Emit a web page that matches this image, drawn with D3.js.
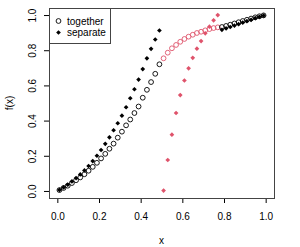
<!DOCTYPE html>
<html>
<head>
<meta charset="utf-8">
<script src="https://cdn.jsdelivr.net/npm/d3@7"></script>
<style>
  body { margin: 0; background: #fff; }
  text { font-family: "Liberation Sans", Arial, sans-serif; font-size: 10px; fill: #000; }
</style>
</head>
<body>
<div id="chart"></div>
<script>
// x positions of the points (three pieces of the grid)
var xLeft = [0.01, 0.03, 0.05, 0.07, 0.09, 0.11, 0.13, 0.15, 0.17, 0.19, 0.21, 0.23, 0.25,
             0.27, 0.29, 0.31, 0.33, 0.35, 0.37, 0.39, 0.41, 0.43, 0.45, 0.47, 0.49];
var xMid = [0.51, 0.53, 0.55, 0.57, 0.59, 0.61, 0.63, 0.65, 0.67, 0.69, 0.71, 0.73, 0.75, 0.77];
var xRight = [0.79, 0.81, 0.83, 0.85, 0.87, 0.89, 0.91, 0.93, 0.95, 0.97, 0.99];

// "together" values (open circles)
var togetherLeft = [0.005, 0.017, 0.030, 0.045, 0.061, 0.077, 0.095, 0.115, 0.137, 0.160, 0.185, 0.211, 0.240,
                    0.269, 0.303, 0.337, 0.373, 0.406, 0.443, 0.480, 0.530, 0.575, 0.619, 0.666, 0.720];
var togetherMid = [0.754, 0.786, 0.811, 0.830, 0.848, 0.864, 0.877, 0.888, 0.898, 0.905, 0.913, 0.920, 0.926, 0.930];
var togetherRight = [0.932, 0.938, 0.945, 0.952, 0.959, 0.966, 0.973, 0.980, 0.987, 0.993, 0.998];

// "separate" values (filled diamonds)
var separateLeft = [0.006, 0.020, 0.036, 0.054, 0.073, 0.094, 0.117, 0.142, 0.170, 0.200, 0.233, 0.268, 0.305,
                    0.345, 0.385, 0.428, 0.476, 0.527, 0.578, 0.633, 0.693, 0.754, 0.808, 0.861, 0.912];
var separateMid = [0.002, 0.176, 0.320, 0.443, 0.545, 0.628, 0.697, 0.757, 0.809, 0.852, 0.896, 0.934, 0.970, 1.000];
var separateRight = [0.916, 0.924, 0.932, 0.940, 0.948, 0.957, 0.965, 0.973, 0.982, 0.990, 0.997];

var tickValues = [0, 0.2, 0.4, 0.6, 0.8, 1.0];
var legendLabels = ["together", "separate"];

var black = "#000000", pink = "#DF536B";

var width = 300, height = 247;
var plot = {left: 49, right: 274, top: 8, bottom: 198};

var svg = d3.select("#chart").append("svg")
  .attr("width", width)
  .attr("height", height);

var x = d3.scaleLinear().domain([-0.04, 1.04]).range([plot.left, plot.right]);
var y = d3.scaleLinear().domain([-0.04, 1.04]).range([plot.bottom, plot.top]);

// axes
var xAxis = svg.append("g")
  .attr("transform", "translate(0," + plot.bottom + ")")
  .call(d3.axisBottom(x).tickValues(tickValues).tickFormat(d3.format(".1f"))
    .tickSize(5).tickSizeOuter(0).tickPadding(10));
xAxis.select(".domain").remove();
xAxis.selectAll("text").style("font-size", "10px").attr("fill", "#000");

var yAxis = svg.append("g")
  .attr("transform", "translate(" + plot.left + ",0)")
  .call(d3.axisLeft(y).tickValues(tickValues).tickFormat(d3.format(".1f"))
    .tickSize(5).tickSizeOuter(0));
yAxis.select(".domain").remove();
yAxis.selectAll("text")
  .attr("x", null).attr("dy", null)
  .attr("text-anchor", "middle")
  .attr("transform", "translate(-13.5,0) rotate(-90)")
  .style("font-size", "10px").attr("fill", "#000");

// plot frame
svg.append("rect")
  .attr("x", plot.left + 0.5).attr("y", plot.top + 0.5)
  .attr("width", plot.right - plot.left).attr("height", plot.bottom - plot.top)
  .attr("fill", "none").attr("stroke", "#444").attr("stroke-width", 1);

// axis titles
svg.append("text")
  .attr("x", (plot.left + plot.right) / 2)
  .attr("y", 243.5)
  .attr("text-anchor", "middle")
  .text("x");
svg.append("text")
  .attr("transform", "translate(13," + (plot.top + plot.bottom) / 2 + ") rotate(-90)")
  .attr("text-anchor", "middle")
  .text("f(x)");

function pairs(xs, ys, colour) {
  return xs.map(function(d, i) { return {x: d, y: ys[i], c: colour}; });
}

var together = pairs(xLeft, togetherLeft, black)
  .concat(pairs(xMid, togetherMid, pink))
  .concat(pairs(xRight, togetherRight, black));
var separate = pairs(xLeft, separateLeft, black)
  .concat(pairs(xMid, separateMid, pink))
  .concat(pairs(xRight, separateRight, black));

// R's pch 18: a small square turned 45 degrees
var diamond = d3.symbol().type(d3.symbolSquare).size(11);

svg.append("g").selectAll("circle")
  .data(together)
  .enter().append("circle")
  .attr("cx", function(d) { return x(d.x); })
  .attr("cy", function(d) { return y(d.y); })
  .attr("r", 2.4)
  .attr("fill", "none")
  .attr("stroke", function(d) { return d.c; })
  .attr("stroke-width", 0.9);

svg.append("g").selectAll("path")
  .data(separate)
  .enter().append("path")
  .attr("d", diamond)
  .attr("transform", function(d) { return "translate(" + x(d.x) + "," + y(d.y) + ") rotate(45)"; })
  .attr("fill", function(d) { return d.c; });

// legend
var legend = svg.append("g");
legend.append("rect")
  .attr("x", plot.left + 0.5).attr("y", plot.top + 0.5)
  .attr("width", 61).attr("height", 35)
  .attr("fill", "#fff").attr("stroke", "#444");
legend.append("circle")
  .attr("cx", 58.5).attr("cy", 21)
  .attr("r", 2.4).attr("fill", "none").attr("stroke", black).attr("stroke-width", 0.9);
legend.append("path")
  .attr("d", diamond)
  .attr("transform", "translate(58.5,32.5) rotate(45)")
  .attr("fill", black);
legend.selectAll("text")
  .data(legendLabels)
  .enter().append("text")
  .attr("x", 67)
  .attr("y", function(d, i) { return 24.5 + i * 11.5; })
  .text(function(d) { return d; });
</script>
</body>
</html>
